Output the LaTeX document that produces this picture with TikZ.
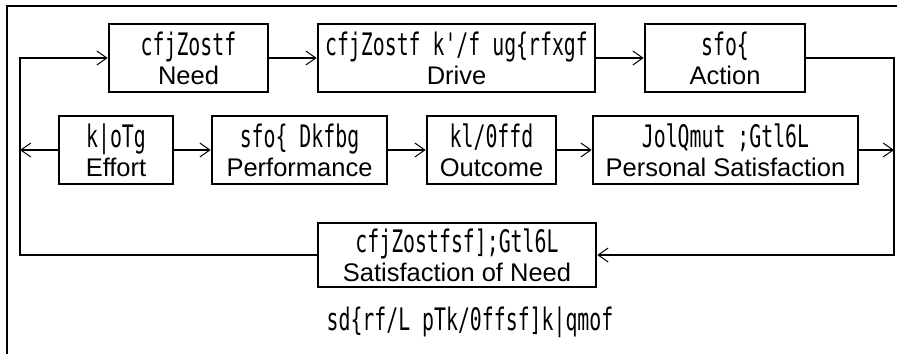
\documentclass[tikz,border=0pt]{standalone}
\usepackage{fontspec}
\usetikzlibrary{arrows.meta,calc}
\setmainfont{Liberation Sans}
\newfontfamily\hinfam[FakeStretch=0.64]{DejaVu Sans Mono}
\newcommand{\hin}{\hinfam\fontsize{31}{29}\selectfont}
\begin{document}
\begin{tikzpicture}[x=1pt,y=-1pt,
  box/.style={draw,line width=2.6pt,inner sep=0pt,align=center,
    font=\fontsize{25.5}{29}\selectfont},
  conn/.style={line width=2pt,-{Straight Barb[length=10pt,width=14pt,line width=1pt]}},
  plain/.style={line width=2pt}]
\useasboundingbox (0,0) rectangle (897,354);
% outer frame (open at right and bottom)
\draw[plain] (897,6) -- (7,6) -- (7,354);
% top row
\node[box,minimum width=159pt,minimum height=68pt] (need) at (188.5,58)
  {{\hin cfjZostf}\\Need};
\node[box,minimum width=277pt,minimum height=68pt] (drive) at (456.5,58)
  {{\hin cfjZostf k'/f ug\{rfxgf}\\Drive};
\node[box,minimum width=160pt,minimum height=68pt] (action) at (725,58)
  {{\hin sfo\{}\\Action};
% middle row
\node[box,minimum width=114pt,minimum height=68pt] (effort) at (116,150)
  {{\hin k|oTg}\\Effort};
\node[box,minimum width=175pt,minimum height=68pt] (perf) at (299.5,150)
  {{\hin sfo\{ Dkfbg}\\Performance};
\node[box,minimum width=129pt,minimum height=68pt] (outcome) at (491.5,150)
  {{\hin kl/0ffd}\\Outcome};
\node[box,minimum width=265pt,minimum height=68pt] (personal) at (725.5,150)
  {{\hin JolQmut ;Gtl6L}\\Personal Satisfaction};
% bottom box
\node[box,minimum width=278pt,minimum height=64pt] (sat) at (457,255)
  {{\hin cfjZostfsf];Gtl6L}\\Satisfaction of Need};
% caption
\node[inner sep=0pt] (cap) at (470,322)
  {\hin sd\{rf/L pTk/0ffsf]k|qmof};
% loop coordinates
\coordinate (rt) at (894,58);
\coordinate (lt) at (20,58);
% connectors
\draw[conn] (need.east) -- (drive.west);
\draw[conn] (drive.east) -- (action.west);
\draw[conn] (action.east) -- (rt) |- (sat.east);
\draw[conn] (sat.west) -| (lt) -- (need.west);
\draw[conn] (effort.west) -- (effort.west -| lt);
\draw[conn] (effort.east) -- (perf.west);
\draw[conn] (perf.east) -- (outcome.west);
\draw[conn] (outcome.east) -- (personal.west);
\draw[conn] (personal.east) -- (personal.east -| rt);
\end{tikzpicture}
\end{document}
